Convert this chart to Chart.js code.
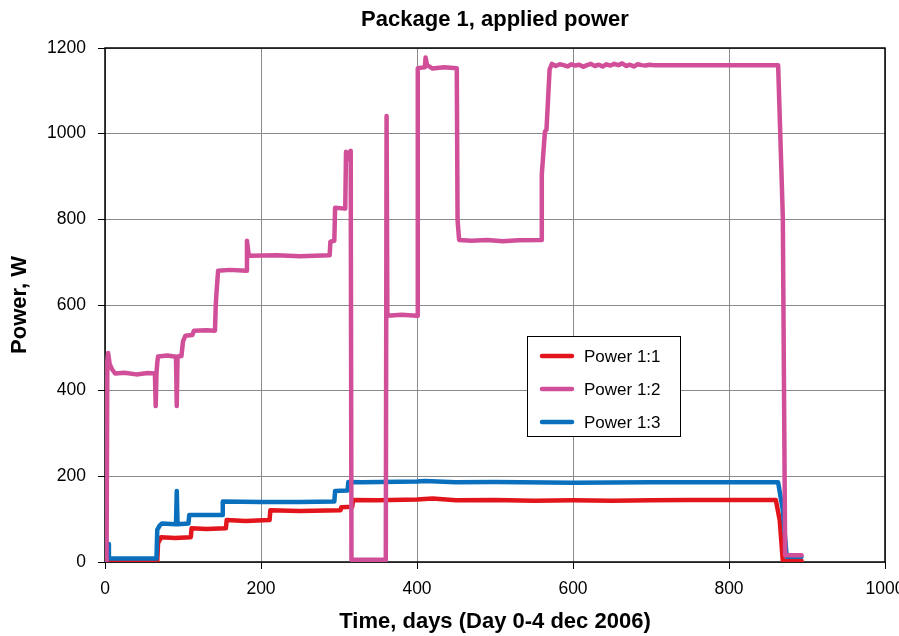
<!DOCTYPE html>
<html>
<head>
<meta charset="utf-8">
<script src="https://cdn.jsdelivr.net/npm/chart.js@4/dist/chart.umd.min.js"></script>
<style>
  html, body { margin: 0; padding: 0; background: #fff; }
  #chart-div { width: 899px; height: 636px; }
</style>
</head>
<body>
<div id="chart-div"><canvas id="myChart" width="899" height="636"></canvas></div>
<script>
// logged power per heater, day number vs watts
const days11 = [0, 67, 68, 72, 90, 110, 111, 130, 155, 156, 180, 211, 212, 250, 302, 303, 317, 318, 350, 400, 420, 450, 500, 550, 600, 650, 700, 750, 860, 865, 869, 893];
const power11 = [2, 2, 44, 58, 56, 58, 79, 77, 79, 98, 96, 98, 121, 119, 121, 128, 129, 145, 144, 146, 148, 144, 145, 143, 144, 143, 144, 145, 145, 98, 3, 3];

const days12 = [2, 3, 4, 6, 9, 13, 25, 40, 55, 64, 65, 66, 67, 68, 80, 91, 92, 93, 98, 100, 103, 112, 114, 130, 141, 142, 143, 145, 160, 181, 182, 184, 186, 220, 250, 288, 289, 294, 295, 308, 309, 311, 313, 315, 316, 340, 360, 361, 362, 380, 400, 401, 410, 411, 413, 420, 435, 451, 452, 454, 470, 490, 510, 530, 559, 560, 564, 566, 570,
  573, 578, 583, 588, 593, 598, 603, 608, 613, 618, 623, 628, 633, 638, 643, 648, 653, 658, 663, 668, 673, 678, 683, 688, 693, 698, 703, 863, 869, 872, 893];
const power12 = [0, 470, 488, 462, 450, 440, 442, 438, 441, 440, 364, 440, 465, 480, 482, 479, 364, 480, 481, 515, 528, 530, 540, 541, 540, 600, 630, 680, 682, 680, 750, 720, 715, 716, 714, 716, 748, 750, 827, 825, 958, 940, 955, 960, 5, 5, 5, 1041, 575, 577, 575, 1153, 1155, 1178, 1160, 1152, 1155, 1153, 798, 752, 750, 752, 749, 751, 752, 905, 1005, 1009, 1150,
  1163, 1158, 1162, 1160, 1157, 1162, 1159, 1161, 1156, 1160, 1163, 1158, 1161, 1157, 1162, 1159, 1163, 1160, 1164, 1158, 1161, 1157, 1162, 1160, 1159, 1161, 1160, 1160, 806, 16, 16];

const days13 = [0, 3, 4, 5, 66, 67, 70, 73, 91, 92, 93, 107, 108, 150, 151, 200, 250, 294, 295, 311, 312, 330, 400, 410, 450, 500, 600, 700, 863, 869, 874, 893];
const power13 = [8, 8, 42, 8, 8, 75, 85, 90, 88, 166, 88, 90, 110, 110, 141, 140, 140, 141, 166, 167, 187, 186, 188, 189, 186, 187, 185, 186, 186, 121, 12, 12];

const seriesLabels = ["Power 1:1", "Power 1:2", "Power 1:3"];
const seriesColors = ["#e2151c", "#d04f98", "#0a70bd"];

const xTicks = [0, 200, 400, 600, 800, 1000];
const yTicks = [0, 200, 400, 600, 800, 1000, 1200];

const FONT = "'Liberation Sans', Arial, sans-serif";

function toPoints(xs, ys) {
  return xs.map((x, i) => ({ x: x, y: ys[i] }));
}

// black box round the plot area
const frame = {
  id: "frame",
  beforeDatasetsDraw(chart) {
    const a = chart.chartArea;
    const ctx = chart.ctx;
    ctx.save();
    ctx.strokeStyle = "#000";
    ctx.lineWidth = 1.5;
    ctx.strokeRect(a.left, a.top, a.right - a.left, a.bottom - a.top);
    ctx.restore();
  }
};

// boxed legend sitting inside the plot
const boxLegend = {
  id: "boxLegend",
  afterDraw(chart) {
    const ctx = chart.ctx;
    const left = 527, top = 336, w = 153, h = 100;
    ctx.save();
    ctx.fillStyle = "#fff";
    ctx.fillRect(left, top, w, h);
    ctx.strokeStyle = "#000";
    ctx.lineWidth = 1;
    ctx.strokeRect(left + 0.5, top + 0.5, w, h);
    ctx.font = "17px " + FONT;
    ctx.textBaseline = "middle";
    ctx.fillStyle = "#000";
    seriesLabels.forEach((label, i) => {
      const y = 356 + i * 33;
      ctx.strokeStyle = seriesColors[i];
      ctx.lineWidth = 4.5;
      ctx.lineCap = "round";
      ctx.beginPath();
      ctx.moveTo(542, y);
      ctx.lineTo(572, y);
      ctx.stroke();
      ctx.fillText(label, 584, y + 1);
    });
    ctx.restore();
  }
};

function createChart() {
  let canvas = document.getElementById("myChart");

  const datasets = [
    toPoints(days11, power11),
    toPoints(days12, power12),
    toPoints(days13, power13)
  ].map((pts, i) => ({
    label: seriesLabels[i],
    data: pts,
    borderColor: seriesColors[i],
    backgroundColor: seriesColors[i],
    borderWidth: 4.5,
    borderJoinStyle: "round",
    borderCapStyle: "round",
    pointRadius: 0,
    tension: 0,
    fill: false,
    // pink on top, then blue, red underneath
    order: [2, 0, 1][i]
  }));

  new Chart(canvas, {
    type: "line",
    data: { datasets: datasets },
    options: {
      responsive: false,
      animation: false,
      layout: { padding: { left: 0, right: 14, top: 0, bottom: 0 } },
      plugins: {
        legend: { display: false },
        tooltip: { enabled: false },
        title: {
          display: true,
          text: "Package 1, applied power",
          fullSize: false,
          color: "#000",
          font: { family: FONT, size: 22, weight: "bold", lineHeight: 1.2 },
          padding: { top: 7, bottom: 14.6 }
        }
      },
      scales: {
        x: {
          type: "linear",
          min: xTicks[0],
          max: xTicks[xTicks.length - 1],
          afterBuildTicks: (s) => { s.ticks = xTicks.map(v => ({ value: v })); },
          afterFit: (s) => { s.height = 74; s.paddingLeft = 0; s.paddingRight = 0; },
          grid: { color: "#8a8a8a", lineWidth: 1, tickColor: "#000", tickLength: 7 },
          border: { display: false },
          ticks: { color: "#000", font: { family: FONT, size: 17.5 }, padding: 10, maxRotation: 0,
            callback: (v) => String(v) },
          title: {
            display: true,
            text: "Time, days (Day 0-4 dec 2006)",
            color: "#000",
            font: { family: FONT, size: 22, weight: "bold", lineHeight: 1.2 },
            padding: { top: 0, bottom: 1 }
          }
        },
        y: {
          type: "linear",
          min: yTicks[0],
          max: yTicks[yTicks.length - 1],
          afterBuildTicks: (s) => { s.ticks = yTicks.map(v => ({ value: v })); },
          afterFit: (s) => { s.width = 105; },
          grid: { color: "#8a8a8a", lineWidth: 1, tickColor: "#000", tickLength: 7 },
          border: { display: false },
          ticks: { color: "#000", font: { family: FONT, size: 17.5 }, padding: 12,
            callback: (v) => String(v) },
          title: {
            display: true,
            text: "Power, W",
            color: "#000",
            font: { family: FONT, size: 22, weight: "bold", lineHeight: 1.2 },
            padding: { top: 7, bottom: 0 }
          }
        }
      }
    },
    plugins: [frame, boxLegend]
  });
}

createChart();
</script>
</body>
</html>
